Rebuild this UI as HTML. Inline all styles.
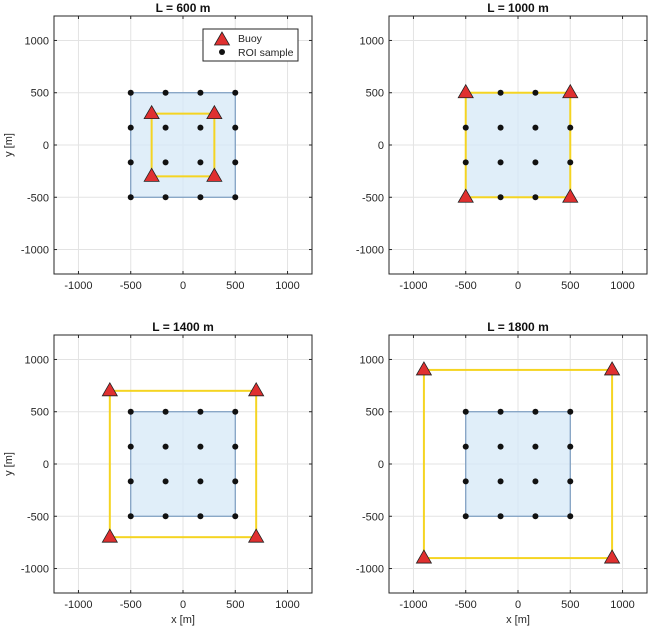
<!DOCTYPE html>
<html><head><meta charset="utf-8"><style>body{margin:0;background:#fff}svg{display:block}text{font-family:"Liberation Sans",sans-serif}</style></head>
<body>
<svg id="s" width="650" height="630" xmlns="http://www.w3.org/2000/svg"></svg>
<script>
const s=document.getElementById('s');let h='';
const W=258,lim=1234,k=W/(2*lim);
const panels=[[54,16,600,1,0],[389,16,1000,0,0],[54,335,1400,1,1],[389,335,1800,0,1]];
for(const [L0,T0,L,ylab,xlab] of panels){
 const cx=L0+W/2,cy=T0+W/2;const X=v=>cx+v*k,Y=v=>cy-v*k;
 h+=`<rect x="${L0}" y="${T0}" width="${W}" height="${W}" fill="#fff"/>`;
 for(const t of [-1000,-500,0,500,1000]){
  h+=`<line x1="${X(t)}" y1="${T0}" x2="${X(t)}" y2="${T0+W}" stroke="#e3e3e3"/>`;
  h+=`<line x1="${L0}" y1="${Y(t)}" x2="${L0+W}" y2="${Y(t)}" stroke="#e3e3e3"/>`;
  h+=`<line x1="${X(t)}" y1="${T0+W}" x2="${X(t)}" y2="${T0+W-3}" stroke="#262626"/><line x1="${X(t)}" y1="${T0}" x2="${X(t)}" y2="${T0+3}" stroke="#262626"/>`;
  h+=`<line x1="${L0}" y1="${Y(t)}" x2="${L0+3}" y2="${Y(t)}" stroke="#262626"/><line x1="${L0+W}" y1="${Y(t)}" x2="${L0+W-3}" y2="${Y(t)}" stroke="#262626"/>`;
  h+=`<text x="${X(t)}" y="${T0+W+15}" font-size="11" fill="#262626" text-anchor="middle">${t}</text>`;
  h+=`<text x="${L0-5}" y="${Y(t)+4}" font-size="11" fill="#262626" text-anchor="end">${t}</text>`;
 }
 h+=`<rect x="${X(-500)}" y="${Y(500)}" width="${1000*k}" height="${1000*k}" fill="#d5e8f7" fill-opacity="0.75" stroke="#7a9cc0" stroke-width="1.2"/>`;
 const a=L/2;
 h+=`<rect x="${X(-a)}" y="${Y(a)}" width="${L*k}" height="${L*k}" fill="none" stroke="#f5d422" stroke-width="2"/>`;
 for(const px of [-500,-500/3,500/3,500])for(const py of [-500,-500/3,500/3,500])h+=`<circle cx="${X(px)}" cy="${Y(py)}" r="3" fill="#111"/>`;
 for(const [bx,by] of [[-a,a],[a,a],[-a,-a],[a,-a]]){const x=X(bx),y=Y(by);h+=`<polygon points="${x},${y-8} ${x-7.5},${y+5} ${x+7.5},${y+5}" fill="#e03030" stroke="#222" stroke-width="0.8"/>`;}
 h+=`<rect x="${L0}" y="${T0}" width="${W}" height="${W}" fill="none" stroke="#262626" stroke-width="1"/>`;
 h+=`<text x="${cx}" y="${T0-4}" font-size="12" font-weight="bold" fill="#111" text-anchor="middle">L = ${L} m</text>`;
 if(ylab)h+=`<text transform="translate(${L0-42},${cy}) rotate(-90)" font-size="11" fill="#262626" text-anchor="middle">y [m]</text>`;
 if(xlab)h+=`<text x="${cx}" y="${T0+W+30}" font-size="11" fill="#262626" text-anchor="middle">x [m]</text>`;
}
h+=`<rect x="203" y="29" width="95" height="32" fill="#fff" stroke="#262626"/>`;
h+=`<polygon points="222,32 214.5,45 229.5,45" fill="#e03030" stroke="#222" stroke-width="0.8"/><text x="238" y="42" font-size="10.5" fill="#262626">Buoy</text>`;
h+=`<circle cx="222" cy="52" r="3" fill="#111"/><text x="238" y="56" font-size="10.5" fill="#262626">ROI sample</text>`;
s.innerHTML=h;
</script>
</body></html>
